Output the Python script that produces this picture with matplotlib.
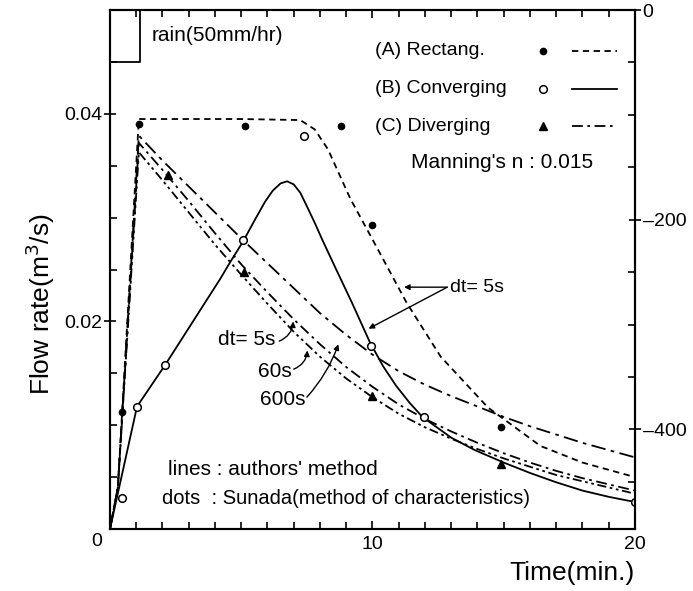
import numpy as np
import matplotlib
matplotlib.use("Agg")
import matplotlib.pyplot as plt
from matplotlib.ticker import MultipleLocator, FixedLocator

plt.rcParams['font.family'] = ['Liberation Sans', 'DejaVu Sans']

# (A) rectangular channel, dt=5s
tA = [0, 0.3, 1.1, 3.0, 5.0, 7.25, 7.8, 8.3, 9.16, 10.0, 11.3, 12.6, 14.4, 16.4, 18.0, 20.0]
qA = [0, 0.004, 0.0395, 0.0395, 0.0395, 0.0394, 0.0385, 0.0366, 0.0318, 0.0279, 0.0218, 0.0166, 0.0117, 0.0080, 0.0064, 0.0050]

# (B) converging, dt=5s
tB = [0, 1.03, 2.1, 4.2, 4.6, 5.07, 5.5, 5.9, 6.2, 6.5, 6.75, 7.0, 7.25, 7.5, 7.8, 8.1, 8.6, 9.2, 9.9,
      10.4, 10.9, 11.4, 11.9, 13.0, 13.9, 15.0, 16.0, 17.0, 18.0, 19.0, 20.0]
qB = [0, 0.0118, 0.0158, 0.0241, 0.0258, 0.0277, 0.0297, 0.0315, 0.0326, 0.0333, 0.0335, 0.0332, 0.0324, 0.0311, 0.0295, 0.0278,
      0.0251, 0.0219, 0.0180, 0.0157, 0.0138, 0.0122, 0.0108, 0.0088, 0.0076, 0.0064, 0.0054, 0.0045, 0.0037, 0.0031, 0.0026]

# (C) diverging, three time steps
tC = [0, 0.3, 1.1, 2, 3, 4, 5, 6, 7, 8, 9, 10, 11, 12, 13, 14, 15, 16, 17, 18, 19, 20]
qC600 = [0, 0.004, 0.0379, 0.0355, 0.0330, 0.0305, 0.0280, 0.0256, 0.0232, 0.0208, 0.0187, 0.0168, 0.0152, 0.0139, 0.0128, 0.0118, 0.0108, 0.0099, 0.0091, 0.0083, 0.0076, 0.0069]
qC5 = [0, 0.004, 0.0372, 0.0346, 0.0316, 0.0285, 0.0255, 0.0228, 0.0202, 0.0178, 0.0156, 0.0137, 0.0120, 0.0106, 0.0094, 0.0083, 0.0073, 0.0064, 0.0056, 0.0049, 0.0043, 0.0037]
qC60 = [0, 0.004, 0.0363, 0.0336, 0.0305, 0.0274, 0.0245, 0.0217, 0.0190, 0.0166, 0.0145, 0.0127, 0.0111, 0.0098, 0.0087, 0.0077, 0.0068, 0.0060, 0.0052, 0.0046, 0.0040, 0.0034]

# Sunada (method of characteristics) dots
tA_dot = [0.45, 1.1, 5.15, 8.8, 10.0, 14.9]
qA_dot = [0.0113, 0.0390, 0.0388, 0.0388, 0.0293, 0.0098]
tB_dot = [0.45, 1.03, 2.1, 5.07, 7.4, 9.95, 11.95, 20.0]
qB_dot = [0.0030, 0.0118, 0.0158, 0.0278, 0.0379, 0.0176, 0.0108, 0.0026]
tC_dot = [2.2, 5.1, 10.0, 14.9]
qC_dot = [0.0341, 0.0248, 0.0128, 0.0063]

# rainfall (50 mm/hr)
t_rain = [0, 1.15, 1.15]
r_rain = [-50, -50, 0]

fig = plt.figure(figsize=(6.93, 5.91), dpi=100)
ax = fig.add_axes([0.1587, 0.1049, 0.7576, 0.8781])

lw = 1.3
ax.plot(tA, qA, color='k', lw=lw, ls=(0, (3.5, 2.5)))
ax.plot(tB, qB, color='k', lw=lw, ls='-')
ax.plot(tC, qC600, color='k', lw=lw, ls=(0, (8, 3, 2, 3)))
ax.plot(tC, qC5, color='k', lw=lw, ls=(0, (6, 2.5, 1.5, 2.5)))
ax.plot(tC, qC60, color='k', lw=lw, ls=(0, (5, 2, 1.5, 2, 1.5, 2)))

ax.plot(tA_dot, qA_dot, 'o', color='k', ms=4.5)
ax.plot(tB_dot, qB_dot, 'o', mfc='white', mec='k', mew=1.1, ms=5.5)
ax.plot(tC_dot, qC_dot, '^', color='k', ms=6)

ax.set_xlim(0, 20)
ax.set_ylim(0, 0.05)
ax.xaxis.set_major_locator(FixedLocator([0, 10, 20]))
ax.xaxis.set_minor_locator(MultipleLocator(1))
ax.set_xticklabels(['', '10', '20'])
ax.yaxis.set_major_locator(FixedLocator([0.02, 0.04]))
ax.yaxis.set_minor_locator(MultipleLocator(0.005))
ax.set_yticklabels(['0.02', '0.04'])
ax.tick_params(which='major', direction='inout', length=9, width=1.2, labelsize=14, pad=1)
ax.tick_params(which='minor', direction='in', length=5, width=1.2, top=True)
ax.tick_params(axis='x', which='both', top=True, direction='in')
ax.tick_params(axis='x', which='major', length=6, pad=5)
for s in ax.spines.values():
    s.set_linewidth(1.5)
ax.text(-0.5, -0.00125, '0', ha='center', va='center', fontsize=14, clip_on=False)

ax.set_ylabel('Flow rate(m$^3$/s)', fontsize=19)
ax.yaxis.set_label_coords(-0.10, 0.434)
ax.text(1.0, -0.085, 'Time(min.)', transform=ax.transAxes, ha='right', va='center', fontsize=19)

ax2 = ax.twinx()
ax2.set_ylim(-495, 0)
ax2.plot(t_rain, r_rain, color='k', lw=1.3)
ax2.yaxis.set_major_locator(FixedLocator([-400, -200, 0]))
ax2.yaxis.set_minor_locator(MultipleLocator(50))
ax2.set_yticklabels(['\u2013400', '\u2013200', '0'])
ax2.tick_params(which='major', direction='inout', length=9, width=1.2, labelsize=14, pad=1)
ax2.tick_params(which='minor', direction='in', length=5, width=1.2)
for s in ax2.spines.values():
    s.set_linewidth(1.5)

fs = 15
ax.text(1.6, 0.0475, 'rain(50mm/hr)', fontsize=fs, va='center')

# legend drawn by hand
fl = 14
leg_y = [0.0461, 0.0424, 0.0388]
leg_txt = ['(A) Rectang.', '(B) Converging', '(C) Diverging']
ax.text(10.1, leg_y[0], leg_txt[0], fontsize=fl, va='center')
ax.text(10.1, leg_y[1], leg_txt[1], fontsize=fl, va='center')
ax.text(10.1, leg_y[2], leg_txt[2], fontsize=fl, va='center')
ax.plot([16.5], [leg_y[0]], 'o', color='k', ms=4.5)
ax.plot([16.5], [leg_y[1]], 'o', mfc='white', mec='k', mew=1.1, ms=5.5)
ax.plot([16.5], [leg_y[2]], '^', color='k', ms=6)
ax.plot([17.6, 19.3], [leg_y[0]] * 2, color='k', lw=lw, ls=(0, (3.5, 2.5)))
ax.plot([17.6, 19.3], [leg_y[1]] * 2, color='k', lw=lw, ls='-')
ax.plot([17.6, 19.3], [leg_y[2]] * 2, color='k', lw=lw, ls=(0, (6, 2.5, 1.5, 2.5)))
ax.text(11.45, 0.0353, "Manning's n : 0.015", fontsize=fs, va='center')

ax.text(2.2, 0.0057, "lines : authors' method", fontsize=fs, va='center')
ax.text(2.0, 0.0029, 'dots  : Sunada(method of characteristics)', fontsize=fs - 0.5, va='center')

# dt labels with arrows
arr = dict(arrowstyle='-|>', color='k', lw=1.0, mutation_scale=8, shrinkA=0, shrinkB=0)
ax.text(12.95, 0.0233, 'dt= 5s', fontsize=fl, va='center')
ax.annotate('', xy=(11.2, 0.0233), xytext=(12.85, 0.0233), arrowprops=arr)
ax.annotate('', xy=(9.85, 0.0193), xytext=(12.85, 0.0233), arrowprops=arr)

ax.text(5.2, 0.0183, 'dt= 5s', fontsize=fs, va='center', ha='center')
ax.annotate('', xy=(6.98, 0.0200), xytext=(6.45, 0.0181),
            arrowprops=dict(arr, connectionstyle='arc3,rad=0.3'))
ax.text(6.3, 0.0152, '60s', fontsize=fs, va='center', ha='center')
ax.annotate('', xy=(7.52, 0.0172), xytext=(7.0, 0.0154),
            arrowprops=dict(arr, connectionstyle='arc3,rad=0.3'))
ax.text(6.6, 0.0125, '600s', fontsize=fs, va='center', ha='center')
ax.annotate('', xy=(8.7, 0.0178), xytext=(7.5, 0.0127),
            arrowprops=dict(arr, connectionstyle='arc3,rad=0.1'))

fig.savefig('out.png', dpi=100)
